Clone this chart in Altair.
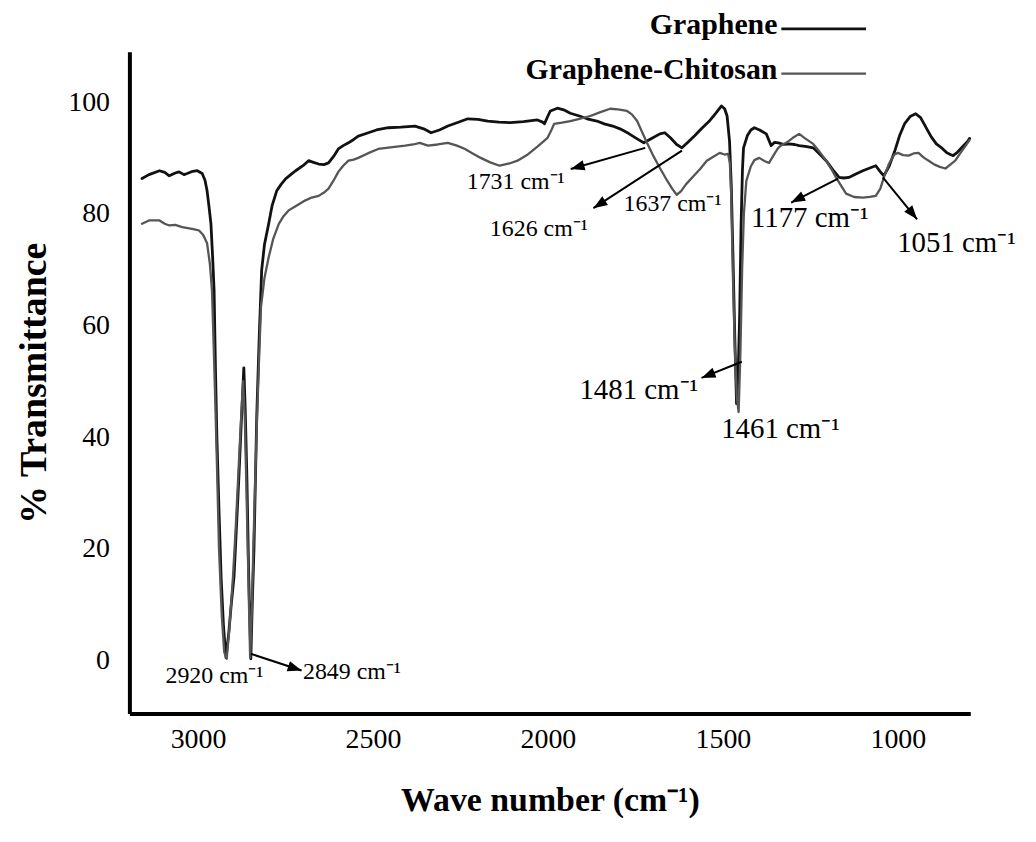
import math
import altair as alt
import pandas as pd

# ---------------- data ----------------
graphene_wn = [3160, 3140, 3110, 3095, 3082, 3065, 3054, 3040, 3031, 3015, 3002, 2988, 2980, 2974, 2968,
               2963, 2958, 2954, 2950, 2946, 2940, 2934, 2927, 2920, 2912, 2905, 2897, 2890, 2883, 2876,
               2869, 2865, 2860, 2855, 2849, 2845, 2840, 2836, 2832, 2825, 2818, 2810, 2798, 2788, 2775,
               2762, 2749, 2735, 2721, 2700, 2684, 2670, 2655, 2640, 2627, 2612, 2599, 2585, 2570, 2555,
               2542, 2513, 2490, 2456, 2420, 2380, 2355, 2334, 2310, 2286, 2260, 2229, 2200, 2172, 2140,
               2107, 2070, 2030, 2015, 2010, 2000, 1993, 1973, 1955, 1936, 1910, 1888, 1860, 1839, 1815,
               1794, 1770, 1745, 1726, 1700, 1680, 1666, 1650, 1632, 1617, 1600, 1580, 1560, 1540, 1520,
               1504, 1495, 1488, 1481, 1476, 1471, 1466, 1461, 1456, 1452, 1448, 1444, 1441, 1430, 1420,
               1410, 1395, 1376, 1362, 1352, 1342, 1325, 1313, 1295, 1282, 1260, 1242, 1225, 1205, 1185,
               1168, 1155, 1140, 1120, 1100, 1080, 1063, 1050, 1040, 1025, 1010, 995, 980, 965, 949,
               935, 920, 905, 890, 873, 860, 850, 842, 830, 815, 800, 795]
graphene_t = [86.3, 87.0, 87.7, 87.4, 86.8, 87.3, 87.5, 87.0, 87.2, 87.6, 87.7, 87.2, 86.0, 84.1, 81.0,
              78.2, 72.0, 66.3, 52.0, 40.0, 27.0, 15.0, 6.0, 0.5, 5.0, 10.0, 15.0, 24.0, 33.0, 43.0,
              52.4, 45.0, 32.0, 15.0, 0.3, 10.0, 20.0, 32.0, 44.0, 58.0, 69.9, 74.5, 78.2, 81.5, 84.1,
              85.3, 86.3, 87.0, 87.7, 88.6, 89.5, 89.2, 88.9, 88.8, 89.1, 90.3, 91.6, 92.2, 92.7, 93.3,
              93.9, 94.5, 95.0, 95.4, 95.5, 95.7, 95.2, 94.5, 95.0, 95.7, 96.3, 97.0, 96.9, 96.6, 96.4,
              96.3, 96.5, 96.8, 96.4, 96.1, 97.5, 98.4, 98.9, 98.6, 98.0, 97.5, 97.0, 96.6, 96.1, 95.7,
              95.2, 94.4, 93.4, 92.7, 93.6, 94.3, 94.5, 93.6, 92.4, 91.8, 92.8, 94.0, 95.3, 96.5, 98.0,
              99.3, 98.8, 97.5, 93.0, 85.0, 72.0, 58.0, 46.0, 52.0, 62.0, 78.0, 88.0, 91.8, 94.0, 95.0,
              95.4, 95.0, 94.3, 92.2, 92.8, 92.7, 92.4, 92.5, 92.4, 92.2, 92.0, 91.8, 90.8, 89.5, 87.8,
              86.5, 86.4, 86.5, 87.1, 87.7, 88.2, 88.6, 87.5, 86.8, 88.5, 91.0, 94.0, 96.2, 97.4, 97.9,
              97.2, 95.5, 93.8, 92.5, 91.7, 90.9, 90.6, 90.4, 91.0, 92.0, 93.0, 93.5]

chitosan_wn = [3160, 3140, 3110, 3095, 3082, 3065, 3045, 3025, 3010, 2997, 2985, 2974, 2966, 2960, 2955,
               2950, 2945, 2940, 2932, 2925, 2918, 2910, 2900, 2892, 2885, 2878, 2871, 2866, 2862, 2856,
               2851, 2846, 2842, 2837, 2832, 2826, 2820, 2810, 2798, 2785, 2769, 2755, 2741, 2720, 2693,
               2675, 2655, 2640, 2627, 2612, 2599, 2585, 2570, 2555, 2542, 2515, 2485, 2450, 2408, 2385,
               2366, 2343, 2315, 2286, 2260, 2237, 2215, 2192, 2165, 2138, 2110, 2087, 2060, 2030, 2001,
               1990, 1982, 1960, 1936, 1910, 1879, 1850, 1822, 1800, 1774, 1760, 1745, 1730, 1717, 1700,
               1680, 1660, 1645, 1632, 1620, 1605, 1583, 1565, 1546, 1525, 1509, 1495, 1485, 1480, 1476,
               1471, 1466, 1460, 1455, 1450, 1445, 1440, 1433, 1420, 1410, 1396, 1380, 1368, 1355, 1342,
               1330, 1319, 1300, 1282, 1265, 1242, 1225, 1205, 1190, 1177, 1160, 1148, 1125, 1100, 1080,
               1063, 1050, 1040, 1025, 1010, 1000, 985, 969, 955, 941, 925, 912, 895, 880, 864,
               850, 836, 820, 805, 795]
chitosan_t = [78.2, 78.8, 78.8, 78.2, 77.9, 78.0, 77.6, 77.4, 77.2, 77.0, 76.2, 74.7, 71.0, 66.3, 56.0,
              45.0, 33.0, 20.0, 8.0, 1.5, 0.3, 6.0, 15.0, 24.0, 33.0, 42.0, 50.0, 43.0, 32.0, 15.0,
              0.5, 9.0, 20.0, 31.0, 42.0, 53.0, 63.3, 68.5, 72.2, 75.5, 78.2, 79.6, 80.6, 81.4, 82.4,
              82.9, 83.2, 83.8, 84.5, 86.0, 87.5, 88.6, 89.5, 89.7, 90.0, 90.8, 91.6, 91.9, 92.2, 92.4,
              92.7, 92.2, 92.4, 92.7, 92.2, 91.6, 90.8, 90.0, 89.2, 88.6, 89.0, 89.5, 90.5, 92.0, 93.6,
              95.0, 96.1, 96.3, 96.6, 97.0, 97.5, 98.2, 98.8, 98.7, 98.4, 97.8, 96.6, 94.5, 92.7, 90.5,
              88.2, 86.0, 84.5, 83.4, 84.0, 85.3, 86.8, 88.0, 89.5, 90.3, 90.9, 90.6, 90.7, 89.0, 83.0,
              68.0, 56.0, 47.0, 44.5, 55.0, 70.0, 80.0, 85.9, 88.5, 89.6, 90.0, 89.4, 89.1, 90.5, 91.8,
              92.4, 92.7, 93.6, 94.3, 93.5, 92.5, 91.2, 89.5, 88.0, 86.5, 84.8, 83.6, 83.0, 82.9, 83.0,
              83.2, 84.5, 86.5, 89.0, 90.6, 90.9, 90.5, 90.4, 90.8, 90.9, 90.0, 89.5, 88.8, 88.4, 88.1,
              88.8, 89.5, 91.0, 92.3, 93.2]

series_names = ["Graphene", "Graphene-Chitosan"]

x_ticks = [3000, 2500, 2000, 1500, 1000]
y_ticks = [0, 20, 40, 60, 80, 100]

peak_labels = ["2920 cm⁻¹", "2849 cm⁻¹", "1731 cm⁻¹", "1626 cm⁻¹", "1637 cm⁻¹",
               "1481 cm⁻¹", "1461 cm⁻¹", "1177 cm⁻¹", "1051 cm⁻¹"]
label_wn = [3093, 2700, 2232, 2166, 1784, 1910, 1505, 1420, 1002]
label_t = [-2.7, -2.0, 85.7, 77.2, 81.8, 48.5, 41.4, 79.3, 74.7]
label_big = [False, False, False, False, False, True, True, True, True]

arrow_from_wn = [2849, 1722, 1617, 1446, 1171, 1043]
arrow_from_t = [1.2, 91.8, 91.3, 53.5, 86.3, 86.5]
arrow_to_wn = [2704, 1935, 1870, 1561, 1305, 945]
arrow_to_t = [-1.8, 88.0, 81.0, 50.6, 82.0, 79.0]

# ---------------- layout / style ----------------
PLOT_W, PLOT_H = 845, 665
X_DOMAIN = [793, 3196]
Y_DOMAIN = [-9.5, 109]
FONT = "Liberation Serif"
COLORS = ["#111111", "#555555"]
WIDTHS = [2.8, 2.3]
SMALL_FS, BIG_FS = 24, 29

# legend placement (in axis units, above the plot's top right)
LEG_TEXT_WN = 1344
LEG_LINE_WN = (1333, 1091)
LEG_TOP_T = 113.7
LEG_STEP_T = 8.0
LEG_LINE_DROP = 0.6

spec_df = pd.concat([
    pd.DataFrame({"wn": graphene_wn, "T": graphene_t, "series": series_names[0]}),
    pd.DataFrame({"wn": chitosan_wn, "T": chitosan_t, "series": series_names[1]}),
], ignore_index=True)

lab_df = pd.DataFrame({"label": peak_labels, "wn": label_wn, "T": label_t,
                       "fs": [BIG_FS if b else SMALL_FS for b in label_big]})

leg_df = pd.DataFrame({
    "series": series_names,
    "tx": [LEG_TEXT_WN] * len(series_names),
    "ty": [LEG_TOP_T - i * LEG_STEP_T for i in range(len(series_names))],
    "lx1": [LEG_LINE_WN[0]] * len(series_names),
    "lx2": [LEG_LINE_WN[1]] * len(series_names),
    "ly": [LEG_TOP_T - i * LEG_STEP_T - LEG_LINE_DROP for i in range(len(series_names))],
})

sx = PLOT_W / (X_DOMAIN[1] - X_DOMAIN[0])
sy = PLOT_H / (Y_DOMAIN[1] - Y_DOMAIN[0])
angles = []
for x1, y1, x2, y2 in zip(arrow_from_wn, arrow_from_t, arrow_to_wn, arrow_to_t):
    dx = -(x2 - x1) * sx
    dy = -(y2 - y1) * sy
    angles.append(math.degrees(math.atan2(dy, dx)) % 360)
arr_df = pd.DataFrame({"x1": arrow_from_wn, "y1": arrow_from_t,
                       "x2": arrow_to_wn, "y2": arrow_to_t, "ang": angles})

xscale = alt.Scale(domain=X_DOMAIN, reverse=True, nice=False, zero=False)
yscale = alt.Scale(domain=Y_DOMAIN, nice=False, zero=False)
color_scale = alt.Scale(domain=series_names, range=COLORS)
width_scale = alt.Scale(domain=series_names, range=WIDTHS)

x_axis = alt.Axis(values=x_ticks, format="d", title="Wave number (cm⁻¹)", grid=False,
                  ticks=False, tickSize=0, labelPadding=12, domainWidth=4, domainColor="black",
                  labelFont=FONT, labelFontSize=28, labelColor="black",
                  titleFont=FONT, titleFontSize=34, titleFontWeight="bold", titleColor="black",
                  titlePadding=30)
y_axis = alt.Axis(values=y_ticks, title="% Transmittance", grid=False,
                  ticks=False, tickSize=0, labelPadding=20, domainWidth=4, domainColor="black",
                  labelFont=FONT, labelFontSize=28, labelColor="black",
                  titleFont=FONT, titleFontSize=38, titleFontWeight="bold", titleColor="black",
                  titlePadding=14)

lines = alt.Chart(spec_df).mark_line(strokeJoin="round", strokeCap="round").encode(
    x=alt.X("wn:Q", scale=xscale, axis=x_axis),
    y=alt.Y("T:Q", scale=yscale, axis=y_axis),
    color=alt.Color("series:N", scale=color_scale, legend=None),
    strokeWidth=alt.StrokeWidth("series:N", scale=width_scale, legend=None),
)

labels = alt.Chart(lab_df).mark_text(align="left", baseline="middle", font=FONT,
                                     color="black").encode(
    x=alt.X("wn:Q", scale=xscale),
    y=alt.Y("T:Q", scale=yscale),
    text="label:N",
    size=alt.Size("fs:Q", scale=None),
)

arrow_lines = alt.Chart(arr_df).mark_rule(color="black", strokeWidth=2).encode(
    x=alt.X("x1:Q", scale=xscale), y=alt.Y("y1:Q", scale=yscale),
    x2="x2:Q", y2="y2:Q",
)

arrow_heads = alt.Chart(arr_df).mark_point(
    shape="M0,0L-2,-0.75L-2,0.75Z", filled=True, color="black", opacity=1, size=196
).encode(
    x=alt.X("x2:Q", scale=xscale), y=alt.Y("y2:Q", scale=yscale),
    angle=alt.Angle("ang:Q", scale=None),
)

leg_text = alt.Chart(leg_df).mark_text(align="right", baseline="middle", font=FONT,
                                       fontSize=30, fontWeight="bold", color="black").encode(
    x=alt.X("tx:Q", scale=xscale), y=alt.Y("ty:Q", scale=yscale), text="series:N",
)
leg_lines = alt.Chart(leg_df).mark_rule().encode(
    x=alt.X("lx1:Q", scale=xscale), x2="lx2:Q",
    y=alt.Y("ly:Q", scale=yscale),
    color=alt.Color("series:N", scale=color_scale, legend=None),
    strokeWidth=alt.StrokeWidth("series:N", scale=width_scale, legend=None),
)

chart = alt.layer(lines, arrow_lines, arrow_heads, labels, leg_text, leg_lines).properties(
    width=PLOT_W, height=PLOT_H,
    autosize=alt.AutoSizeParams(type="none"),
    padding={"left": 122, "top": 42, "right": 58, "bottom": 110},
    background="white",
).configure_view(strokeWidth=0)

chart.save("out.html", embed_options={"renderer": "svg", "actions": False})
